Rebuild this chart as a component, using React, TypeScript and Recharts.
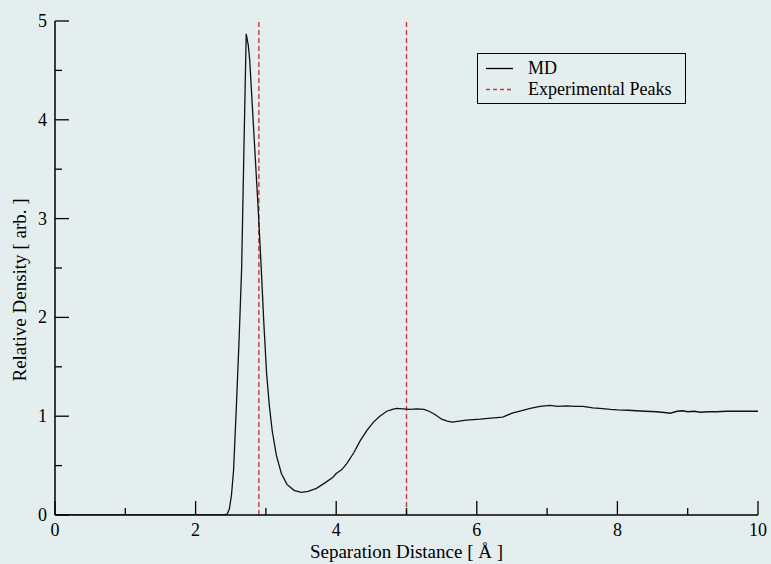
import { LineChart, Line, XAxis, YAxis, ReferenceLine, Legend } from 'recharts';

// separation distance [Å] and relative density
const DIST = [
  0, 1, 2, 2.4, 2.45, 2.48, 2.51, 2.54, 2.58, 2.62, 2.655, 2.69, 2.72, 2.75, 2.77, 2.81, 2.85, 2.89,
  2.93, 2.97, 3.01, 3.05, 3.09, 3.15, 3.22, 3.3, 3.4, 3.5, 3.6, 3.72, 3.85, 3.95, 4.0, 4.08, 4.15,
  4.25, 4.34, 4.44, 4.53, 4.62, 4.72, 4.8, 4.86, 4.95, 5.05, 5.15, 5.25, 5.32, 5.4, 5.5, 5.58, 5.65,
  5.75, 5.85, 5.95, 6.05, 6.2, 6.37, 6.5, 6.6, 6.76, 6.9, 7.04, 7.15, 7.28, 7.4, 7.51, 7.65, 7.75,
  7.9, 8.0, 8.15, 8.27, 8.4, 8.56, 8.7, 8.75, 8.85, 8.93, 9.0, 9.1, 9.17, 9.3, 9.41, 9.55, 9.65,
  9.8, 9.9, 10,
];
const DENSITY = [
  0, 0, 0, 0, 0.01, 0.06, 0.2, 0.45, 1.1, 1.8, 2.5, 3.8, 4.87, 4.75, 4.6, 4.1, 3.6, 3.1,
  2.55, 1.95, 1.43, 1.1, 0.85, 0.6, 0.42, 0.31, 0.25, 0.23, 0.24, 0.27, 0.33, 0.38, 0.42, 0.46, 0.52,
  0.63, 0.75, 0.86, 0.94, 1.0, 1.05, 1.07, 1.08, 1.075, 1.07, 1.075, 1.07, 1.05, 1.02, 0.97, 0.95, 0.94,
  0.95, 0.96, 0.965, 0.97, 0.98, 0.99, 1.03, 1.05, 1.08, 1.1, 1.11, 1.1, 1.105, 1.1, 1.1, 1.085, 1.08,
  1.07, 1.065, 1.06, 1.055, 1.05, 1.045, 1.035, 1.03, 1.05, 1.055, 1.045, 1.05, 1.04, 1.045, 1.045, 1.05, 1.05,
  1.05, 1.05, 1.05,
];
const EXP_PEAKS = [2.9, 5.0];

const X_TICKS = [0, 1, 2, 3, 4, 5, 6, 7, 8, 9, 10];
const Y_TICKS = [0, 0.5, 1, 1.5, 2, 2.5, 3, 3.5, 4, 4.5, 5];

const data = DIST.map((x, i) => ({ x, md: DENSITY[i] }));

const FONT = '"Liberation Serif", "Times New Roman", Tinos, "DejaVu Serif", "Noto Serif", serif';
const BG = '#e5eeee';
const RED = '#b8413a';

const tickLen = (major: boolean) => (major ? 14 : 7);

function BottomTick({ x, y, payload }: any) {
  const major = payload.value % 2 === 0;
  return (
    <g>
      <line x1={x} x2={x} y1={y} y2={y - tickLen(major)} stroke="#000" strokeWidth={1.3} />
      {major && (
        <text x={x} y={y + 21} textAnchor="middle" style={{ fontFamily: FONT, fontSize: 18 }} fill="#000">
          {payload.value}
        </text>
      )}
    </g>
  );
}

function TopTick({ x, y, payload }: any) {
  const major = payload.value % 2 === 0;
  return <line x1={x} x2={x} y1={y} y2={y + tickLen(major)} stroke="#000" strokeWidth={1.3} />;
}

function LeftTick({ x, y, payload }: any) {
  const major = Number.isInteger(payload.value);
  return (
    <g>
      <line x1={x} x2={x + tickLen(major)} y1={y} y2={y} stroke="#000" strokeWidth={1.3} />
      {major && (
        <text x={x - 8} y={y + 6} textAnchor="end" style={{ fontFamily: FONT, fontSize: 18 }} fill="#000">
          {payload.value}
        </text>
      )}
    </g>
  );
}

function RightTick({ x, y, payload }: any) {
  const major = Number.isInteger(payload.value);
  return <line x1={x} x2={x - tickLen(major)} y1={y} y2={y} stroke="#000" strokeWidth={1.3} />;
}

function LegendBox() {
  const row = { display: 'flex', alignItems: 'center', height: 21 } as const;
  return (
    <div
      style={{
        width: 209,
        height: 51,
        border: '1.5px solid #000',
        background: BG,
        fontFamily: FONT,
        fontSize: 18,
        color: '#000',
        paddingTop: 4,
        boxSizing: 'border-box',
      }}
    >
      <div style={row}>
        <svg width={50} height={21}>
          <line x1={8} x2={35} y1={10.5} y2={10.5} stroke="#000" strokeWidth={1.3} />
        </svg>
        <span>MD</span>
      </div>
      <div style={row}>
        <svg width={50} height={21}>
          <line x1={8} x2={35} y1={10.5} y2={10.5} stroke={RED} strokeWidth={1.3} strokeDasharray="4 3" />
        </svg>
        <span>Experimental Peaks</span>
      </div>
    </div>
  );
}

export default function App() {
  return (
    <div style={{ position: 'absolute', left: 0, top: 0, width: 771, height: 564, background: BG, fontFamily: FONT }}>
      <LineChart width={771} height={564} data={data} margin={{ top: 21, right: 13, left: 0, bottom: 0 }}>
        <XAxis
          dataKey="x"
          type="number"
          domain={[0, 10]}
          ticks={X_TICKS}
          interval={0}
          height={49}
          tickSize={0}
          tickMargin={0}
          tickLine={false}
          axisLine={{ stroke: '#000', strokeWidth: 1.5 }}
          tick={BottomTick}
          allowDataOverflow
          label={{
            value: 'Separation Distance [ Å ]',
            position: 'insideBottom',
            offset: 6,
            style: { fontFamily: FONT, fontSize: 19, fill: '#000' },
          }}
        />
        <XAxis
          xAxisId="top"
          orientation="top"
          dataKey="x"
          type="number"
          domain={[0, 10]}
          ticks={X_TICKS}
          interval={0}
          height={0}
          tickSize={0}
          tickMargin={0}
          tickLine={false}
          axisLine={{ stroke: '#000', strokeWidth: 1.5 }}
          tick={TopTick}
          allowDataOverflow
        />
        <YAxis
          type="number"
          domain={[0, 5]}
          ticks={Y_TICKS}
          interval={0}
          width={55}
          tickSize={0}
          tickMargin={0}
          tickLine={false}
          axisLine={{ stroke: '#000', strokeWidth: 1.5 }}
          tick={LeftTick}
          allowDataOverflow
          label={{
            content: () => (
              <text
                transform="translate(26,290) rotate(-90)"
                textAnchor="middle"
                style={{ fontFamily: FONT, fontSize: 19 }}
                fill="#000"
              >
                Relative Density [ arb. ]
              </text>
            ),
          }}
        />
        <YAxis
          yAxisId="r"
          orientation="right"
          type="number"
          domain={[0, 5]}
          ticks={Y_TICKS}
          interval={0}
          width={0}
          tickSize={0}
          tickMargin={0}
          tickLine={false}
          axisLine={{ stroke: '#000', strokeWidth: 1.5 }}
          tick={RightTick}
          allowDataOverflow
        />
        {EXP_PEAKS.map((p) => (
          <ReferenceLine key={p} x={p} stroke={RED} strokeWidth={1.4} strokeDasharray="5 3" />
        ))}
        <Line
          dataKey="md"
          type="linear"
          stroke="#111"
          strokeWidth={1.3}
          dot={false}
          isAnimationActive={false}
        />
        <Legend
          layout="vertical"
          align="center"
          verticalAlign="middle"
          wrapperStyle={{ left: 477, top: 53, width: 209 }}
          content={() => <LegendBox />}
        />
      </LineChart>
    </div>
  );
}
